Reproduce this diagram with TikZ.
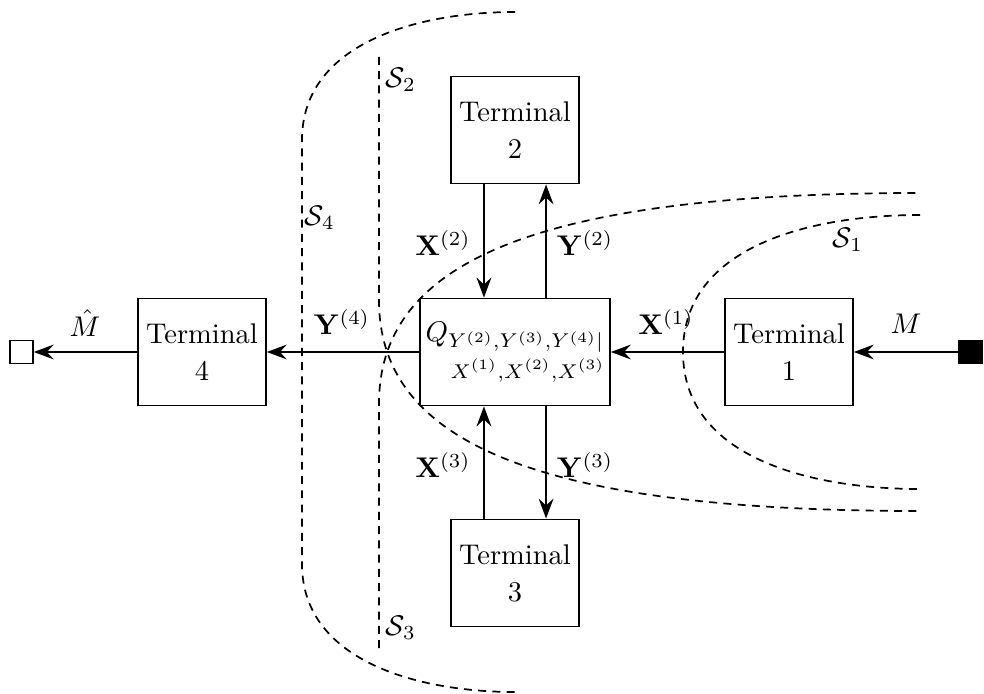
\documentclass[tikz,border=0pt]{standalone}
\usepackage{amsmath}
\usetikzlibrary{arrows.meta}
\begin{document}
\begin{tikzpicture}[x=0.351pt,y=-0.351pt,
  term/.style={draw,semithick,minimum width=44.9pt,minimum height=37.6pt,align=center,inner sep=1pt},
  qbox/.style={draw,semithick,minimum width=66.7pt,minimum height=37.6pt,align=right,inner sep=1pt},
  arr/.style={semithick,-{Stealth[length=7pt,width=5.2pt,inset=2.4pt]}},
  cut/.style={semithick,dash pattern=on 2.8pt off 2.2pt},
  lab/.style={inner sep=1pt},
  sq/.style={draw,semithick,minimum size=8pt,inner sep=0pt}]
\useasboundingbox (0,0) rectangle (984,694);
% nodes
\node[qbox] (Q) at (515,352) {$Q_{Y^{(2)},Y^{(3)},Y^{(4)}|}$\\[1pt]$\scriptstyle X^{(1)},X^{(2)},X^{(3)}$};
\node[term] (T1) at (789,352) {Terminal\\[1pt]1};
\node[term] (T2) at (515,130) {Terminal\\[1pt]2};
\node[term] (T3) at (515,573) {Terminal\\[1pt]3};
\node[term] (T4) at (202,352) {Terminal\\[1pt]4};
\node[sq] (out) at (21.5,352) {};
\node[sq,fill=black] (in) at (970.5,352) {};
% connectors
\draw[arr] (in) -- (T1);
\draw[arr] (T1) -- (Q);
\draw[arr] (Q) -- (T4);
\draw[arr] (T4) -- (out);
\draw[arr] ([xshift=-10.9pt]T2.south) -- ([xshift=-10.9pt]Q.north);
\draw[arr] ([xshift=10.9pt]Q.north) -- ([xshift=10.9pt]T2.south);
\draw[arr] ([xshift=10.9pt]Q.south) -- ([xshift=10.9pt]T3.north);
\draw[arr] ([xshift=-10.9pt]T3.north) -- ([xshift=-10.9pt]Q.south);
% labels
\node[lab] (lM) at (906,324) {$M$};
\node[lab] (lMh) at (85,323) {$\hat{M}$};
\node[lab] (lX1) at (666,322) {$\mathbf{X}^{(1)}$};
\node[lab] (lY4) at (342,322) {$\mathbf{Y}^{(4)}$};
\node[lab] (lX2) at (443,243) {$\mathbf{X}^{(2)}$};
\node[lab] (lY2) at (585,243) {$\mathbf{Y}^{(2)}$};
\node[lab] (lX3) at (443,465) {$\mathbf{X}^{(3)}$};
\node[lab] (lY3) at (585,465) {$\mathbf{Y}^{(3)}$};
% cuts
\draw[cut] (515,12) .. controls (418,12) and (302,43) .. (302,140) -- (302,564) .. controls (302,661) and (418,692) .. (515,692);
\draw[cut] (379,57) -- (379,300) .. controls (379,440) and (530,511) .. (920,511);
\draw[cut] (379,648) -- (379,404) .. controls (379,264) and (530,193) .. (920,193);
\draw[cut] (920,215) .. controls (813,215) and (683,245) .. (683,352) .. controls (683,459) and (813,489) .. (920,489);
\node[lab] (s1) at (848,240) {$\mathcal{S}_1$};
\node[lab] (s2) at (401,80) {$\mathcal{S}_2$};
\node[lab] (s3) at (401,628) {$\mathcal{S}_3$};
\node[lab] (s4) at (320,218) {$\mathcal{S}_4$};
\end{tikzpicture}
\end{document}
